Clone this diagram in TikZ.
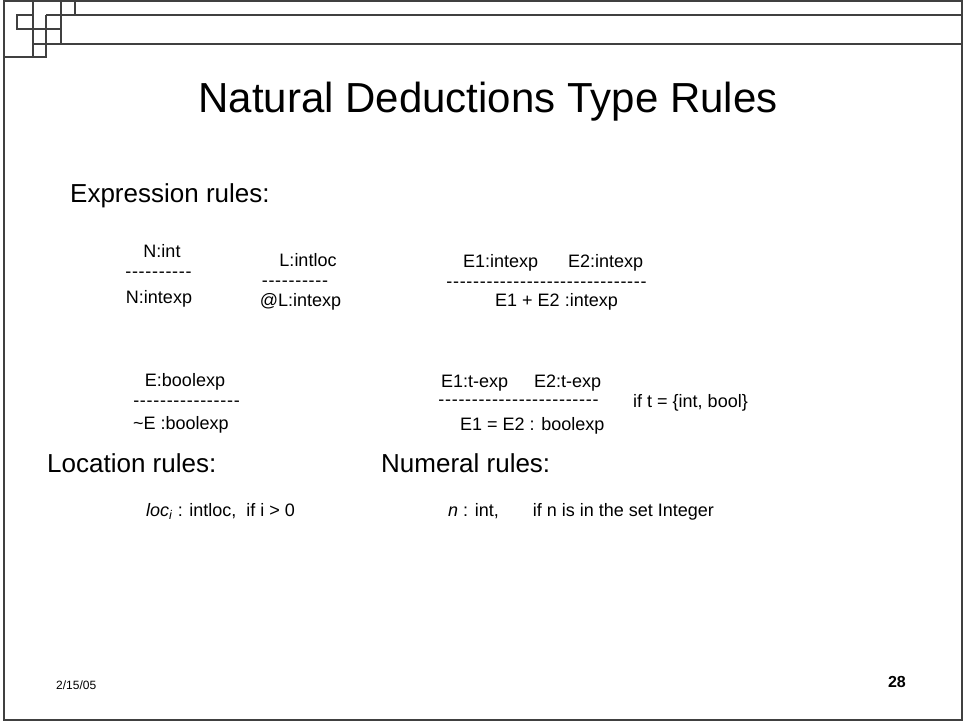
\documentclass[tikz,border=0pt]{standalone}
\usepackage{fontspec}
\setmainfont{Liberation Sans}
\newcommand\dashrow[1]{\foreach \k in {1,...,#1}{\makebox[6.7pt]{-}}}
\begin{document}
\begin{tikzpicture}[x=1pt,y=-1pt,
  frameline/.style={draw=black!75, line width=1.1pt},
  rulec/.style={font=\fontsize{18}{20}\selectfont, inner sep=0pt, anchor=base},
  rulel/.style={font=\fontsize{18}{20}\selectfont, inner sep=0pt, anchor=base west},
  head/.style={font=\fontsize{26}{30}\selectfont, inner sep=0pt, anchor=base west},
  titlestyle/.style={font=\fontsize{42}{48}\selectfont, inner sep=0pt, anchor=base}]
\useasboundingbox (0,0) rectangle (965,723);
\fill[white] (0,0) rectangle (965,723);
% frame and corner decoration
\draw[frameline] (4,1) rectangle (962,720);
\draw[frameline] (46,15) -- (962,15);
\draw[frameline] (33,44) -- (962,44);
\draw[frameline] (4,57) -- (46,57);
\draw[frameline] (33,1) -- (33,58);
\draw[frameline] (17,15) rectangle (33,29);
\draw[frameline] (17,29) -- (61,29);
\draw[frameline] (46,15) -- (46,58);
\draw[frameline] (61,1) -- (61,44);
\draw[frameline] (75,1) -- (75,15);
% title
\node[titlestyle] (title) at (488,112) {Natural Deductions Type Rules};
% headings
\node[head] (hexpr) at (70,202) {Expression rules:};
\node[head] (hloc) at (47,472) {Location rules:};
\node[head] (hnum) at (381,472) {Numeral rules:};
% rule 1
\node[rulec] (r1p) at (162,257) {N:int};
\node[rulec] (r1d) at (158.5,277) {\dashrow{10}};
\node[rulec] (r1c) at (159,303) {N:intexp};
% rule 2
\node[rulec] (r2p) at (308,266) {L:intloc};
\node[rulec] (r2d) at (295,286) {\dashrow{10}};
\node[rulec] (r2c) at (300.5,306) {@L:intexp};
% rule 3
\node[rulel] (r3p1) at (463,267) {E1:intexp};
\node[rulel] (r3p2) at (568,267) {E2:intexp};
\node[rulec] (r3d) at (546.5,287) {\dashrow{30}};
\node[rulec] (r3c) at (556.5,306) {E1 + E2 :intexp};
% rule 4
\node[rulec] (r4p) at (185,386) {E:boolexp};
\node[rulec] (r4d) at (186.5,406) {\dashrow{16}};
\node[rulel] (r4c) at (133,429) {\textasciitilde E :boolexp};
% rule 5
\node[rulel] (r5p1) at (441,387) {E1:t-exp};
\node[rulel] (r5p2) at (534,387) {E2:t-exp};
\node[rulec] (r5d) at (518.5,405) {\dashrow{24}};
\node[rulel] (r5c) at (460,430) {E1 = E2 : boolexp};
\node[rulel] (r5s) at (633,407) {if t = \{int, bool\}};
% location and numeral rules
\node[rulel] (loc) at (146,516) {\textit{loc}\textsubscript{\textit{i}} : intloc,\ \ if i > 0};
\node[rulel] (num) at (448,516) {\textit{n} : int,\hspace{34pt}if n is in the set Integer};
% footer
\node[font=\fontsize{12}{14}\selectfont, inner sep=0pt, anchor=base west] (date) at (56,689) {2/15/05};
\node[font=\fontsize{16}{18}\selectfont\bfseries, inner sep=0pt, anchor=base east] (page) at (906,687) {28};
\end{tikzpicture}
\end{document}
